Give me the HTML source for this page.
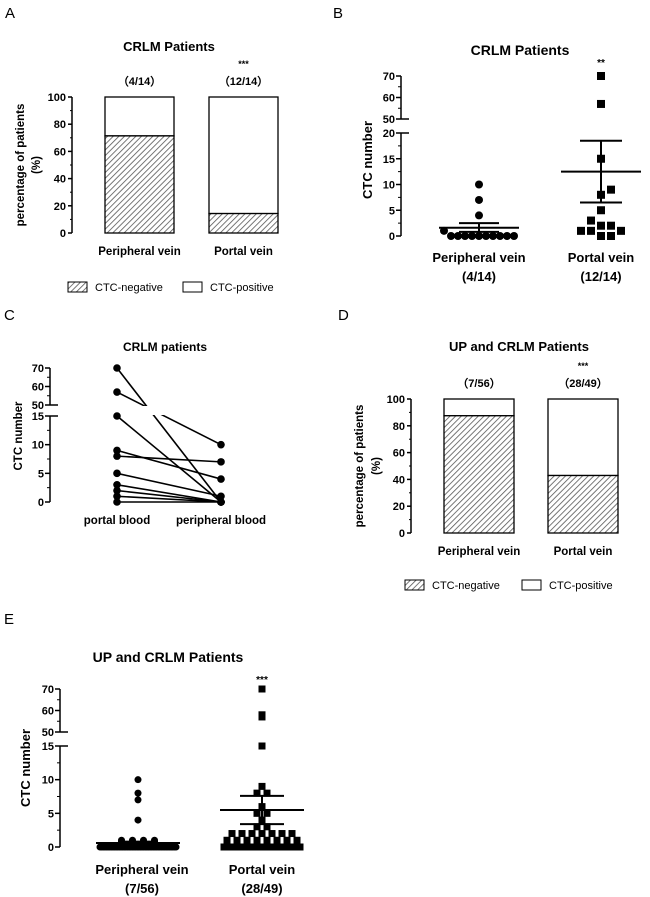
<!DOCTYPE html>
<html><head><meta charset="utf-8"><style>
html,body{margin:0;padding:0;background:#fff;}
svg{display:block;font-family:"Liberation Sans",Arial,sans-serif;}
</style></head><body>
<svg id="fig" width="650" height="897" viewBox="0 0 650 897">
<defs>
<pattern id="hatch" patternUnits="userSpaceOnUse" width="4" height="4" patternTransform="rotate(45)">
<rect width="4" height="4" fill="#fff"/><line x1="0" y1="0" x2="0" y2="4" stroke="#555" stroke-width="1.6"/>
</pattern>
</defs>
<g id="root"></g>
</svg>
<script>
// ---- data ----
const barCategories = ["Peripheral vein", "Portal vein"];
const barA_neg = [71.4, 14.3];
const barA_counts = ["\uFF084/14\uFF09", "\uFF0812/14\uFF09"];
const barD_neg = [87.5, 42.9];
const barD_counts = ["\uFF087/56\uFF09", "\uFF0828/49\uFF09"];
const pctTicks = [0, 20, 40, 60, 80, 100];
const B_periph = [10, 7, 4, 1, 0, 0, 0, 0, 0, 0, 0, 0, 0, 0];
const B_portal = [70, 57, 15, 9, 8, 5, 3, 2, 2, 1, 1, 1, 0, 0];
const B_stats = {periph:[1.6, 0.8, 2.5], portal:[12.5, 6.5, 18.5]};
const B_lowTicks = [0, 5, 10, 15, 20];
const upTicks = [50, 60, 70];
const C_portal = [70, 57, 15, 9, 8, 5, 3, 2, 1, 0];
const C_periph = [0, 10, 0, 4, 7, 1, 0, 0, 0, 0];
const C_lowTicks = [0, 5, 10, 15];
const E_periph = [10, 8, 7, 4, 1, 1, 1, 1].concat(Array(48).fill(0));
const E_portal = [70, 58, 57, 15, 9, 8, 8, 6, 5, 5, 4, 3, 3, 2, 2, 2, 2, 2, 2, 2, 1, 1, 1, 1, 1, 1, 1, 1].concat(Array(21).fill(0));
const E_stats = {periph:[0.6, 0.4, 0.8], portal:[5.5, 3.4, 7.6]};

const NS = "http://www.w3.org/2000/svg";
const root = document.getElementById("root");
function el(tag, attrs, parent, text) {
  const e = document.createElementNS(NS, tag);
  for (const k in attrs) e.setAttribute(k, attrs[k]);
  if (text !== undefined) e.textContent = text;
  (parent || root).appendChild(e);
  return e;
}
function txt(x, y, s, size, bold, anchor, name, parent) {
  const t = el("text", {x: x, y: y, "font-size": size, "text-anchor": anchor || "middle", "font-weight": bold ? "bold" : "normal", fill: "#000"}, parent, s);
  
  
  return t;
}
function line(x1, y1, x2, y2, w, parent) {
  return el("line", {x1: x1, y1: y1, x2: x2, y2: y2, stroke: "#000", "stroke-width": w || 1.5}, parent);
}
function ylabel(x, y, s, size, name) {
  const t = txt(0, 0, s, size, true, "middle", name);
  t.setAttribute("transform", "translate(" + x + "," + y + ") rotate(-90)");
}

[["A", 5, 18], ["B", 333, 18], ["C", 4, 320], ["D", 338, 320], ["E", 4, 624]].forEach(p => {
  txt(p[1], p[2], p[0], 15, false, "start", "panel-label-" + p[0].toLowerCase());
});

function barPanel(cfg) {
  const g = el("g", {});
  
  
  const ys = v => cfg.y0 + (cfg.y100 - cfg.y0) * v / 100;
  line(cfg.ax, cfg.y0, cfg.ax, cfg.y100, 1.5, g);
  pctTicks.forEach((t, i) => {
    line(cfg.ax - 4, ys(t), cfg.ax, ys(t), 1.5, g);
    if (i < pctTicks.length - 1) line(cfg.ax - 2, ys(t + 10), cfg.ax, ys(t + 10), 1, g);
    txt(cfg.ax - 6, ys(t) + 4, String(t), 11, true, "end", "y-tick-label", g);
  });
  cfg.neg.forEach((v, i) => {
    const x = cfg.bx[i], w = cfg.bw;
    const r1 = el("rect", {x: x, y: ys(100), width: w, height: ys(v) - ys(100), fill: "#fff", stroke: "#000", "stroke-width": 1.3}, g);
    
    
    const r2 = el("rect", {x: x, y: ys(v), width: w, height: ys(0) - ys(v), fill: "url(#hatch)", stroke: "#000", "stroke-width": 1.3}, g);
    
    
    txt(x + w / 2, cfg.y100 - 12, cfg.counts[i], 11, true, "middle", "count-label", g);
    txt(x + w / 2, cfg.y0 + 22, barCategories[i], 11.5, true, "middle", "x-category-label", g);
  });
  txt(cfg.bx[1] + cfg.bw / 2, cfg.y100 - 30, "***", 9, true, "middle", "significance-stars", g);
  txt(cfg.tx, cfg.ty, cfg.title, 13, true, "middle", "chart-title", g);
  const lx = cfg.lx, ly = cfg.ly;
  const s1 = el("rect", {x: lx, y: ly - 9, width: 19, height: 10, fill: "url(#hatch)", stroke: "#000", "stroke-width": 1}, g);
  
  
  txt(lx + 27, ly, "CTC-negative", 11, false, "start", "legend-entry-negative", g);
  const s2 = el("rect", {x: cfg.lx2, y: ly - 9, width: 19, height: 10, fill: "#fff", stroke: "#000", "stroke-width": 1}, g);
  
  
  txt(cfg.lx2 + 27, ly, "CTC-positive", 11, false, "start", "legend-entry-positive", g);
}
barPanel({name: "panel-a-bar-chart", ax: 72, y0: 233, y100: 97, bx: [105, 209], bw: 69, neg: barA_neg, counts: barA_counts, title: "CRLM Patients", tx: 169, ty: 51, lx: 68, lx2: 183, ly: 291});
ylabel(24, 165, "percentage of patients", 11.5, "y-axis-title");
ylabel(40, 165, "(%)", 11.5, "y-axis-title-unit");
barPanel({name: "panel-d-bar-chart", ax: 411, y0: 533, y100: 399, bx: [444, 548], bw: 70, neg: barD_neg, counts: barD_counts, title: "UP and CRLM Patients", tx: 519, ty: 351, lx: 405, lx2: 522, ly: 589});
ylabel(363, 466, "percentage of patients", 11.5, "y-axis-title");
ylabel(380, 466, "(%)", 11.5, "y-axis-title-unit");

function brokenAxis(cfg, g) {
  const ys = v => v >= 50 ? cfg.y50 + (cfg.y70 - cfg.y50) * (v - 50) / 20
    : (v > cfg.lowMax ? cfg.yTop : cfg.y0 + (cfg.yTop - cfg.y0) * v / cfg.lowMax);
  line(cfg.ax, cfg.y0, cfg.ax, cfg.yTop, 1.5, g);
  line(cfg.ax, cfg.y50, cfg.ax, cfg.y70, 1.5, g);
  cfg.lowTicks.forEach((t, i) => {
    line(cfg.ax - 5, ys(t), cfg.ax, ys(t), 1.5, g);
    if (i < cfg.lowTicks.length - 1) line(cfg.ax - 3, ys(t + cfg.minor), cfg.ax, ys(t + cfg.minor), 1, g);
    txt(cfg.ax - 6, ys(t) + 4, String(t), 11, true, "end", "y-tick-label", g);
  });
  upTicks.forEach((t, i) => {
    line(cfg.ax - 5, ys(t), cfg.ax, ys(t), 1.5, g);
    if (i < upTicks.length - 1) line(cfg.ax - 3, ys(t + 5), cfg.ax, ys(t + 5), 1, g);
    txt(cfg.ax - 6, ys(t) + 4, String(t), 11, true, "end", "y-tick-label", g);
  });
  line(cfg.ax, cfg.y50, cfg.ax + 8, cfg.y50, 1.5, g);
  line(cfg.ax, cfg.yTop, cfg.ax + 8, cfg.yTop, 1.5, g);
  return ys;
}
function marker(x, y, shape, size, g, name) {
  let m;
  if (shape === "sq") m = el("rect", {x: x - size / 2, y: y - size / 2, width: size, height: size, fill: "#000"}, g);
  else m = el("circle", {cx: x, cy: y, r: size / 2, fill: "#000"}, g);
  
  
}
function scatter(vals, cx, ys, shape, size, dist, g, name) {
  const sorted = vals.slice().sort((a, b) => a - b);
  const placed = [];
  sorted.forEach(v => {
    const y = ys(v);
    let x = cx;
    for (let k = 0; k < 200; k++) {
      const off = (k % 2 === 1 ? 1 : -1) * Math.ceil(k / 2) * dist / 2;
      const tx = cx + off;
      if (placed.every(p => (p[0] - tx) ** 2 + (p[1] - y) ** 2 >= dist * dist * 0.99)) { x = tx; break; }
    }
    placed.push([x, y]);
    marker(x, y, shape, size, g, name);
  });
}
function scatterGrouped(vals, cx, ys, shape, size, dist, maxW, g, name) {
  const groups = {};
  vals.forEach(v => { groups[v] = (groups[v] || 0) + 1; });
  Object.keys(groups).forEach(k => {
    const n = groups[k], v = +k;
    const sp = n > 1 ? Math.min(dist, maxW / (n - 1)) : 0;
    for (let j = 0; j < n; j++) marker(cx + (j - (n - 1) / 2) * sp, ys(v), shape, size, g, name);
  });
}
function meanSem(cx, st, ys, hw, ew, g) {
  line(cx - hw, ys(st[0]), cx + hw, ys(st[0]), 2, g);
  line(cx, ys(st[1]), cx, ys(st[2]), 2, g);
  line(cx - ew, ys(st[1]), cx + ew, ys(st[1]), 2, g);
  line(cx - ew, ys(st[2]), cx + ew, ys(st[2]), 2, g);
}

// ---- Panel B ----
(function () {
  const g = el("g", {});
  
  
  const ys = brokenAxis({ax: 401, y0: 236, yTop: 133, lowMax: 20, y50: 119, y70: 76, lowTicks: B_lowTicks, minor: 2.5}, g);
  scatter(B_periph, 479, ys, "ci", 8, 7, g, "point-peripheral");
  scatter(B_portal, 601, ys, "sq", 8, 10, g, "point-portal");
  meanSem(479, B_stats.periph, ys, 40, 20, g);
  meanSem(601, B_stats.portal, ys, 40, 21, g);
  txt(520, 55, "CRLM Patients", 14, true, "middle", "chart-title", g);
  txt(601, 66, "**", 10, true, "middle", "significance-stars", g);
  txt(479, 262, "Peripheral vein", 13, true, "middle", "x-category-label", g);
  txt(479, 281, "(4/14)", 13, true, "middle", "x-count-label", g);
  txt(601, 262, "Portal vein", 13, true, "middle", "x-category-label", g);
  txt(601, 281, "(12/14)", 13, true, "middle", "x-count-label", g);
  ylabel(372, 160, "CTC number", 13, "y-axis-title");
})();

// ---- Panel C ----
(function () {
  const g = el("g", {});
  
  
  const ys = brokenAxis({ax: 50, y0: 502, yTop: 416, lowMax: 15, y50: 405, y70: 368, lowTicks: C_lowTicks, minor: 2.5}, g);
  const x1 = 117, x2 = 221;
  const lg = el("g", {}, g);
  C_portal.forEach((v, i) => {
    const l = line(x1, ys(v), x2, ys(C_periph[i]), 1.6, lg);
    
    
  });
  el("rect", {x: 125, y: 406, width: 130, height: 9, fill: "#fff"}, g);
  C_portal.forEach((v, i) => {
    [[x1, v], [x2, C_periph[i]]].forEach(p => {
      const c = el("circle", {cx: p[0], cy: ys(p[1]), r: 3.8, fill: "#000"}, g);
      
      
    });
  });
  txt(165, 351, "CRLM patients", 12, true, "middle", "chart-title", g);
  txt(117, 524, "portal blood", 11.5, true, "middle", "x-category-label", g);
  txt(221, 524, "peripheral blood", 11.5, true, "middle", "x-category-label", g);
  ylabel(22, 436, "CTC number", 11.5, "y-axis-title");
})();

// ---- Panel E ----
(function () {
  const g = el("g", {});
  
  
  const ys = brokenAxis({ax: 60, y0: 847, yTop: 746, lowMax: 15, y50: 732, y70: 689, lowTicks: C_lowTicks, minor: 2.5}, g);
  scatterGrouped(E_periph, 138, ys, "ci", 7, 11, 76, g, "point-peripheral");
  scatterGrouped(E_portal, 262, ys, "sq", 7, 10, 76, g, "point-portal");
  meanSem(138, E_stats.periph, ys, 42, 20, g);
  meanSem(262, E_stats.portal, ys, 42, 22, g);
  txt(168, 662, "UP and CRLM Patients", 14, true, "middle", "chart-title", g);
  txt(262, 683, "***", 10, true, "middle", "significance-stars", g);
  txt(142, 874, "Peripheral vein", 13, true, "middle", "x-category-label", g);
  txt(142, 893, "(7/56)", 13, true, "middle", "x-count-label", g);
  txt(262, 874, "Portal vein", 13, true, "middle", "x-category-label", g);
  txt(262, 893, "(28/49)", 13, true, "middle", "x-count-label", g);
  ylabel(30, 768, "CTC number", 13, "y-axis-title");
})();
</script>
</body></html>
